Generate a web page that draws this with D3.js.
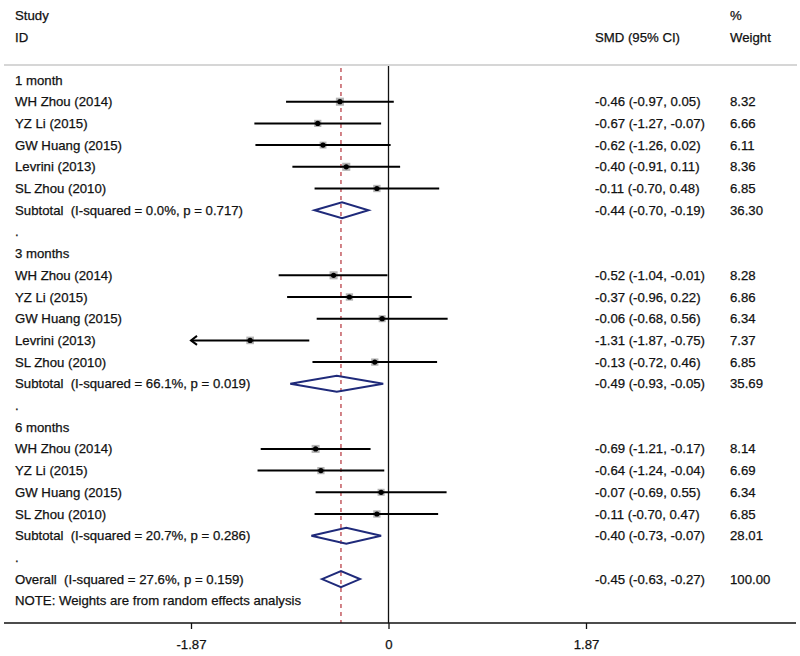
<!DOCTYPE html>
<html>
<head>
<meta charset="utf-8">
<script src="https://cdn.jsdelivr.net/npm/d3@7"></script>
<style>
  body { margin: 0; background: #fff; }
  text { font-family: "Liberation Sans", Arial, sans-serif; font-size: 13.2px; fill: #111; stroke: #111; stroke-width: 0.25px; white-space: pre; }
</style>
</head>
<body>
<svg id="canvas" width="800" height="656"></svg>
<script>
// study rows per follow-up group
const groups = ["1 month", "3 months", "6 months"]
const studyNames = [
  ["WH Zhou (2014)", "YZ Li (2015)", "GW Huang (2015)", "Levrini (2013)", "SL Zhou (2010)"],
  ["WH Zhou (2014)", "YZ Li (2015)", "GW Huang (2015)", "Levrini (2013)", "SL Zhou (2010)"],
  ["WH Zhou (2014)", "YZ Li (2015)", "GW Huang (2015)", "SL Zhou (2010)"]
]
const smd = [
  [-0.46, -0.67, -0.62, -0.40, -0.11],
  [-0.52, -0.37, -0.06, -1.31, -0.13],
  [-0.69, -0.64, -0.07, -0.11]
]
const ciLow = [
  [-0.97, -1.27, -1.26, -0.91, -0.70],
  [-1.04, -0.96, -0.68, -1.87, -0.72],
  [-1.21, -1.24, -0.69, -0.70]
]
const ciHigh = [
  [0.05, -0.07, 0.02, 0.11, 0.48],
  [-0.01, 0.22, 0.56, -0.75, 0.46],
  [-0.17, -0.04, 0.55, 0.47]
]
const weights = [
  [8.32, 6.66, 6.11, 8.36, 6.85],
  [8.28, 6.86, 6.34, 7.37, 6.85],
  [8.14, 6.69, 6.34, 6.85]
]
// subtotals
const subLabels = [
  "Subtotal  (I-squared = 0.0%, p = 0.717)",
  "Subtotal  (I-squared = 66.1%, p = 0.019)",
  "Subtotal  (I-squared = 20.7%, p = 0.286)"
]
const subSmd = [-0.44, -0.49, -0.40]
const subLow = [-0.70, -0.93, -0.73]
const subHigh = [-0.19, -0.05, -0.07]
const subWeight = [36.30, 35.69, 28.01]
// overall
const overallLabel = "Overall  (I-squared = 27.6%, p = 0.159)"
const overall = {est: -0.45, lo: -0.63, hi: -0.27, w: 100.00}
const tickVals = [-1.87, 0, 1.87]

const w = 800, h = 656
const svg = d3.select("#canvas")
const x = d3.scaleLinear().domain([-1.87, 1.87]).range([191, 586])
const rowH = 21.7, row0 = 80
const yRow = i => row0 + i * rowH
const axisY = 623

// build row list
let rows = []
groups.forEach((g, gi) => {
  rows.push({type: "group", label: g})
  studyNames[gi].forEach((s, si) => {
    rows.push({type: "study", label: s, est: smd[gi][si], lo: ciLow[gi][si], hi: ciHigh[gi][si], w: weights[gi][si]})
  })
  rows.push({type: "sub", label: subLabels[gi], est: subSmd[gi], lo: subLow[gi], hi: subHigh[gi], w: subWeight[gi]})
  rows.push({type: "dot", label: "."})
})
rows.push({type: "sub", label: overallLabel, est: overall.est, lo: overall.lo, hi: overall.hi, w: overall.w})
rows.push({type: "note", label: "NOTE: Weights are from random effects analysis"})
rows.forEach((r, i) => r.y = yRow(i))

// headers
svg.append("text").attr("x", 15).attr("y", 20).text("Study")
svg.append("text").attr("x", 15).attr("y", 42).text("ID")
svg.append("text").attr("x", 595).attr("y", 42).text("SMD (95% CI)")
svg.append("text").attr("x", 730).attr("y", 20).text("%")
svg.append("text").attr("x", 730).attr("y", 42).text("Weight")
svg.append("line").attr("x1", 4).attr("x2", 797).attr("y1", 65).attr("y2", 65)
  .attr("stroke", "#c8c8c8").attr("stroke-width", 1.5)

// reference lines
svg.append("line").attr("x1", x(0)).attr("x2", x(0)).attr("y1", 66).attr("y2", axisY)
  .attr("stroke", "#111").attr("stroke-width", 1.3)
svg.append("line").attr("x1", x(overall.est)).attr("x2", x(overall.est)).attr("y1", 68).attr("y2", axisY)
  .attr("stroke", "#b5323a").attr("stroke-width", 1.2).attr("stroke-dasharray", "4,4")

// labels
svg.selectAll("text.lab").data(rows).join("text").attr("class", "lab")
  .attr("x", 15).attr("y", d => d.y + 4.5).text(d => d.label)

const stats = rows.filter(d => d.type == "study" || d.type == "sub")
svg.selectAll("text.ci").data(stats).join("text").attr("class", "ci")
  .attr("x", 595).attr("y", d => d.y + 4.5)
  .text(d => d.est.toFixed(2) + " (" + d.lo.toFixed(2) + ", " + d.hi.toFixed(2) + ")")
svg.selectAll("text.wt").data(stats).join("text").attr("class", "wt")
  .attr("x", 730).attr("y", d => d.y + 4.5).text(d => d.w.toFixed(2))

// study marks
const studies = rows.filter(d => d.type == "study")
svg.selectAll("rect.box").data(studies).join("rect").attr("class", "box")
  .attr("x", d => x(d.est) - Math.sqrt(d.w) * 1.4)
  .attr("y", d => d.y - Math.sqrt(d.w) * 1.4)
  .attr("width", d => Math.sqrt(d.w) * 2.8)
  .attr("height", d => Math.sqrt(d.w) * 2.8)
  .attr("fill", "#b4b4b4")
svg.selectAll("line.ci").data(studies).join("line").attr("class", "ci")
  .attr("x1", d => x(d.lo)).attr("x2", d => x(d.hi))
  .attr("y1", d => d.y).attr("y2", d => d.y)
  .attr("stroke", "#000").attr("stroke-width", 2)
svg.selectAll("circle.pt").data(studies).join("circle").attr("class", "pt")
  .attr("cx", d => x(d.est)).attr("cy", d => d.y).attr("r", 2.6).attr("fill", "#000")
// arrow where CI runs off the axis
svg.selectAll("path.arrow").data(studies.filter(d => d.lo <= x.domain()[0])).join("path")
  .attr("class", "arrow")
  .attr("d", d => `M${x(d.lo) + 6},${d.y - 4.5} L${x(d.lo)},${d.y} L${x(d.lo) + 6},${d.y + 4.5}`)
  .attr("fill", "none").attr("stroke", "#000").attr("stroke-width", 2)

// diamonds
const subs = rows.filter(d => d.type == "sub")
svg.selectAll("path.diamond").data(subs).join("path").attr("class", "diamond")
  .attr("d", d => `M${x(d.lo)},${d.y} L${x(d.est)},${d.y - 8} L${x(d.hi)},${d.y} L${x(d.est)},${d.y + 8} Z`)
  .attr("fill", "none").attr("stroke", "#1f2a7a").attr("stroke-width", 2)

// axis
svg.append("line").attr("x1", 4).attr("x2", 796).attr("y1", axisY).attr("y2", axisY)
  .attr("stroke", "#111").attr("stroke-width", 1.3)
const axis = svg.append("g").attr("transform", `translate(0,${axisY})`)
  .call(d3.axisBottom(x).tickValues(tickVals).tickSize(6).tickPadding(11)
    .tickFormat(d => d == 0 ? "0" : d.toFixed(2)))
axis.select(".domain").remove()
axis.selectAll(".tick line").attr("stroke", "#111").attr("stroke-width", 1.3)
axis.selectAll(".tick text").style("font-size", "13.2px").style("font-family", "Liberation Sans, Arial, sans-serif")
</script>
</body>
</html>
